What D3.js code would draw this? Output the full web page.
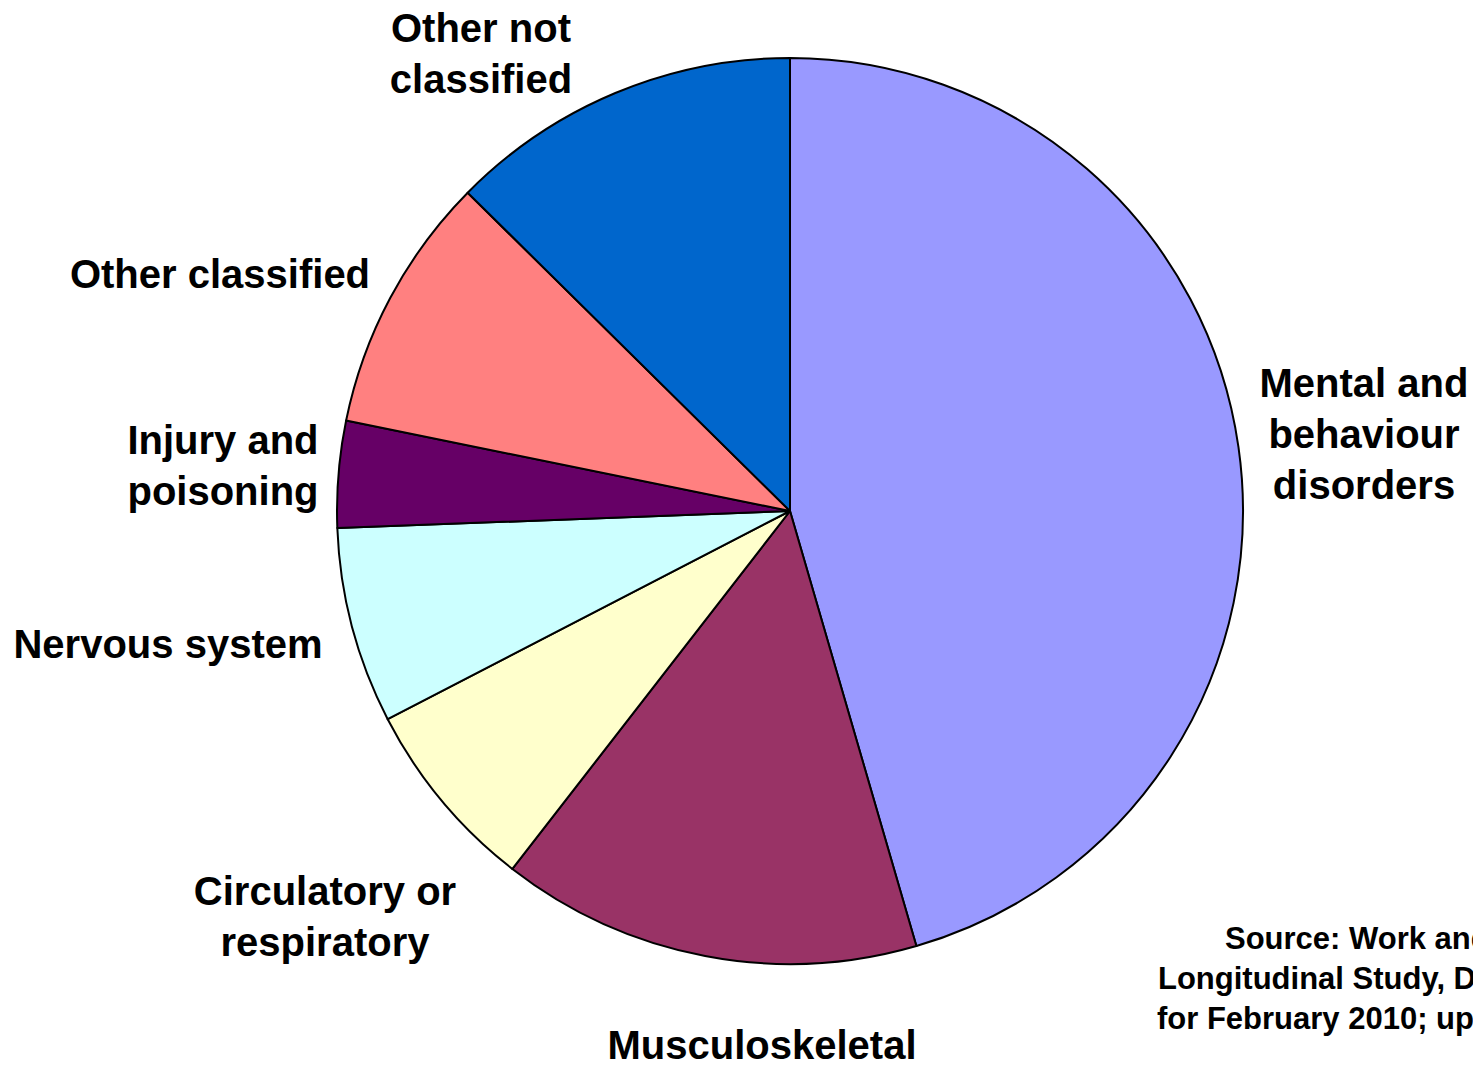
<!DOCTYPE html>
<html>
<head>
<meta charset="utf-8">
<script src="https://cdn.jsdelivr.net/npm/d3@7"></script>
<style>
  body { margin: 0; background: #fff; overflow: hidden; }
  text { font-family: "Liberation Sans", Arial, sans-serif; font-weight: bold; fill: #000; }
</style>
</head>
<body>
<div id="chart"></div>
<script>
(function () {
    var width = 1473,
        height = 1066;

    // slices, clockwise from 12 o'clock
    var categories = ["Mental and behaviour disorders", "Musculoskeletal", "Circulatory or respiratory",
        "Nervous system", "Injury and poisoning", "Other classified", "Other not classified"];
    var values = [45.5, 15.0, 6.9, 7.0, 3.8, 9.2, 12.6];
    var labelLines = [
        ["Mental and", "behaviour", "disorders"],
        ["Musculoskeletal"],
        ["Circulatory or", "respiratory"],
        ["Nervous system"],
        ["Injury and", "poisoning"],
        ["Other classified"],
        ["Other not", "classified"]
    ];
    // the source note runs off the right edge in the original
    var sourceLines = ["Source: Work and", "Longitudinal Study, D", "for February 2010; up"];

    var colors = ["#9999ff", "#993366", "#ffffcc", "#ccffff", "#660066", "#ff8080", "#0066cc"];
    // where Excel put the label blocks (centre x, centre y of first line)
    var labelPos = [[1364, 383], [762, 1045], [325, 891], [168, 644], [223, 440], [220, 274], [481, 28]];

    var cx = 790, cy = 511, radius = 453;

    var svg = d3.select("#chart")
        .append("svg")
        .attr("width", width)
        .attr("height", height);

    var pie = d3.pie().sort(null).value(function (d) { return d; });
    var arc = d3.arc().innerRadius(0).outerRadius(radius);

    var g = svg.append("g").attr("transform", "translate(" + cx + "," + cy + ")");

    g.selectAll("path")
        .data(pie(values))
        .enter().append("path")
        .attr("d", arc)
        .attr("fill", function (d, i) { return colors[i]; })
        .attr("stroke", "#000")
        .attr("stroke-width", 2)
        .attr("stroke-linejoin", "round");

    var lineH = 51;
    categories.forEach(function (c, i) {
        var t = svg.append("text")
            .attr("text-anchor", "middle")
            .attr("font-size", 40)
            .attr("x", labelPos[i][0])
            .attr("y", labelPos[i][1]);
        labelLines[i].forEach(function (ln, j) {
            t.append("tspan")
                .attr("x", labelPos[i][0])
                .attr("y", labelPos[i][1] + j * lineH)
                .attr("dy", "0.35em")
                .text(ln);
        });
    });

    var srcX = [1225, 1158, 1157];
    sourceLines.forEach(function (ln, j) {
        svg.append("text")
            .attr("x", srcX[j])
            .attr("y", 938 + j * 40)
            .attr("dy", "0.35em")
            .attr("font-size", 31)
            .text(ln);
    });
})();
</script>
</body>
</html>
